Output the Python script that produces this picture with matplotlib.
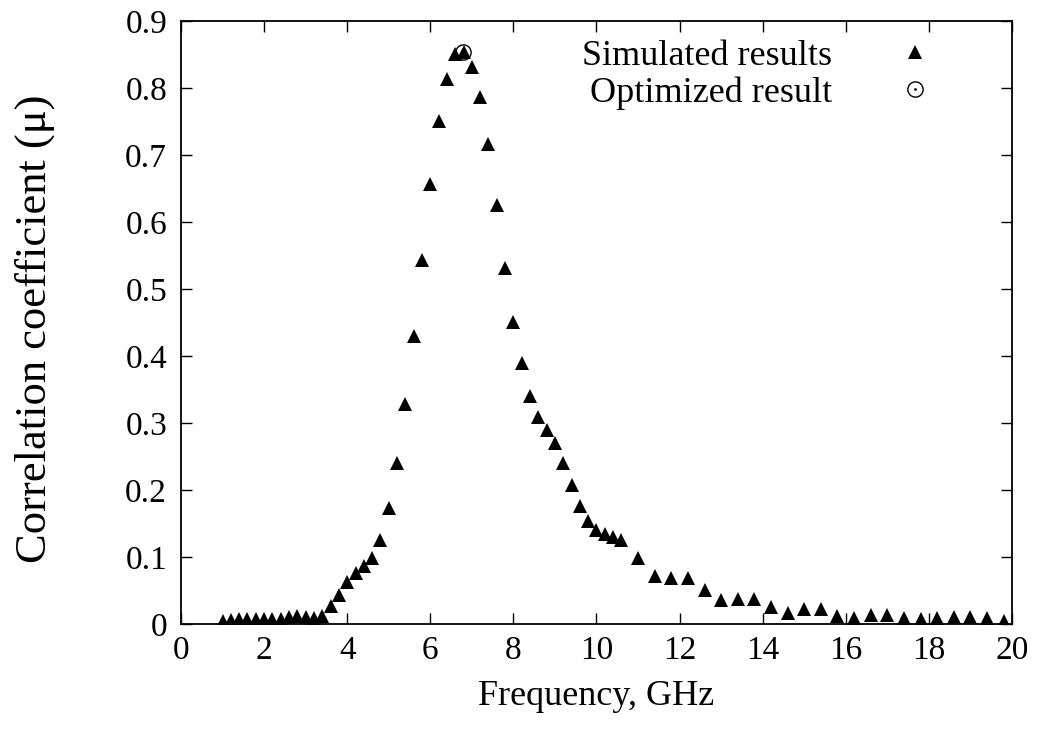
import matplotlib
matplotlib.use("Agg")
import matplotlib.pyplot as plt
from matplotlib.lines import Line2D
from matplotlib.ticker import FuncFormatter
import numpy as np

# Данные: частота (ГГц) и коэффициент корреляции
freq_fine = [1.0, 1.2, 1.4, 1.6, 1.8, 2.0, 2.2, 2.4, 2.6, 2.8,
             3.0, 3.2, 3.4, 3.6, 3.8, 4.0, 4.2, 4.4, 4.6, 4.8,
             5.0, 5.2, 5.4, 5.6, 5.8, 6.0, 6.2, 6.4, 6.6, 6.8,
             7.0, 7.2, 7.4, 7.6, 7.8, 8.0, 8.2, 8.4, 8.6, 8.8,
             9.0, 9.2, 9.4, 9.6, 9.8, 10.0, 10.2, 10.4, 10.6]
mu_fine = [0.004, 0.006, 0.007, 0.008, 0.008, 0.007, 0.007, 0.008, 0.011, 0.012,
           0.011, 0.009, 0.012, 0.027, 0.043, 0.062, 0.076, 0.087, 0.099, 0.125,
           0.173, 0.241, 0.328, 0.430, 0.543, 0.656, 0.751, 0.813, 0.850, 0.853,
           0.832, 0.786, 0.716, 0.625, 0.531, 0.450, 0.389, 0.340, 0.309, 0.290,
           0.270, 0.241, 0.207, 0.176, 0.154, 0.140, 0.134, 0.130, 0.126]

freq_coarse = [11.0, 11.4, 11.8, 12.2, 12.6, 13.0, 13.4, 13.8, 14.2, 14.6,
               15.0, 15.4, 15.8, 16.2, 16.6, 17.0, 17.4, 17.8, 18.2, 18.6,
               19.0, 19.4, 19.8]
mu_coarse = [0.099, 0.072, 0.069, 0.068, 0.051, 0.036, 0.038, 0.038, 0.026, 0.017,
             0.022, 0.022, 0.012, 0.009, 0.013, 0.013, 0.009, 0.007, 0.009, 0.011,
             0.011, 0.009, 0.005]

freq = np.array(freq_fine + freq_coarse)
mu = np.array(mu_fine + mu_coarse)

opt_freq = [6.78]
opt_mu = [0.853]

x_ticks = list(range(0, 21, 2))
y_ticks = [0, 0.1, 0.2, 0.3, 0.4, 0.5, 0.6, 0.7, 0.8, 0.9]

plt.rcParams['font.family'] = ['Liberation Serif', 'DejaVu Serif']

fig = plt.figure(figsize=(10.42, 7.44), dpi=100)
ax = fig.add_axes([0.1737, 0.1613, 0.7975, 0.8105])

ax.plot(freq, mu, linestyle='none', marker='^', markersize=10.5,
        color='black', markeredgewidth=0)
ax.plot(opt_freq, opt_mu, linestyle='none', marker='o', markersize=11,
        markerfacecolor='none', markeredgecolor='black', markeredgewidth=1)
ax.plot(opt_freq, opt_mu, linestyle='none', marker='.', markersize=2,
        color='black')

ax.set_xlim(0, 20)
ax.set_ylim(0, 0.9)
ax.set_xticks(x_ticks)
ax.set_yticks(y_ticks)
ax.yaxis.set_major_formatter(FuncFormatter(lambda v, p: '%g' % v))
ax.tick_params(direction='in', length=8, width=1, top=True, right=True,
               labelsize=24)
ax.tick_params(axis='x', pad=8)
ax.tick_params(axis='y', pad=10)
for s in ax.spines.values():
    s.set_linewidth(1.3)

ax.set_xlabel('Frequency, GHz', fontsize=26)
ax.xaxis.set_label_coords(0.5, -0.093)
ax.set_ylabel('Correlation coefficient (\u03bc)', fontsize=32)
ax.yaxis.set_label_coords(-0.152, 0.49)

# Легенда в стиле gnuplot: текст справа выровнен, маркер после текста
h_sim = Line2D([], [], linestyle='none', marker='^', markersize=10.5,
               color='black', markeredgewidth=0)
h_circ = Line2D([], [], linestyle='none', marker='o', markersize=11,
                markerfacecolor='none', markeredgecolor='black', markeredgewidth=1)
h_dot = Line2D([], [], linestyle='none', marker='.', markersize=2, color='black')
leg = ax.legend([h_sim, (h_circ, h_dot)], ['Simulated results', 'Optimized result'],
                loc='upper right', bbox_to_anchor=(0.953, 1.005), frameon=False,
                markerfirst=False, handlelength=2.0, handletextpad=1.3,
                labelspacing=0.1, borderaxespad=0.2, fontsize=26)

fig.savefig('out.png', dpi=100)
